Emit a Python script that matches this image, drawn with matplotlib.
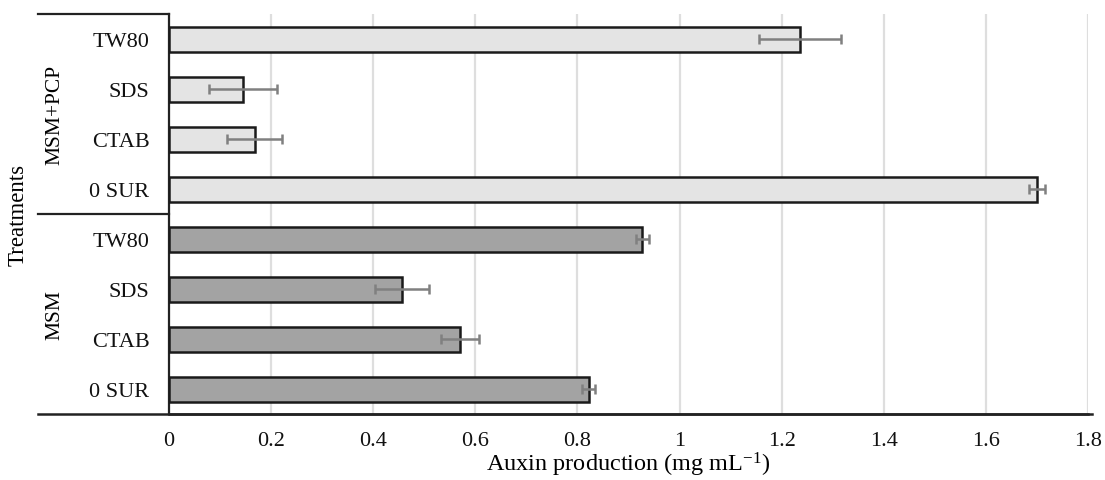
import matplotlib
matplotlib.use('Agg')
import matplotlib.pyplot as plt
import numpy as np

# surfactant treatments, listed bottom to top inside each group
surfactants = ['0 SUR', 'CTAB', 'SDS', 'TW80']
groups = ['MSM', 'MSM+PCP']

# auxin production (mg/mL) and error bars
msm_values = [0.822, 0.570, 0.457, 0.927]
msm_errors = [0.013, 0.037, 0.053, 0.013]
pcp_values = [1.700, 0.168, 0.145, 1.236]
pcp_errors = [0.015, 0.054, 0.066, 0.080]

plt.rcParams['font.family'] = ['Liberation Serif', 'DejaVu Serif']
plt.rcParams['mathtext.default'] = 'regular'

fig = plt.figure(figsize=(11.05, 4.81), dpi=100)
ax = fig.add_axes([169 / 1105, 1 - 415 / 481, 919 / 1105, 400 / 481])

n = len(surfactants)
y_msm = np.arange(n)
y_pcp = np.arange(n) + n

err_kw = dict(ecolor='#808080', elinewidth=1.8, capsize=3.6, capthick=1.8)
ax.barh(y_msm, msm_values, height=0.5, color='#a3a3a3', edgecolor='#1a1a1a',
        linewidth=1.8, xerr=msm_errors, error_kw=err_kw, zorder=3)
ax.barh(y_pcp, pcp_values, height=0.5, color='#e4e4e4', edgecolor='#1a1a1a',
        linewidth=1.8, xerr=pcp_errors, error_kw=err_kw, zorder=3)

ax.set_xlim(0, 1.8)
ax.set_ylim(-0.5, 2 * n - 0.5)
ax.set_xticks(np.arange(0, 1.81, 0.2))
ax.set_xticklabels(['0', '0.2', '0.4', '0.6', '0.8', '1', '1.2', '1.4', '1.6', '1.8'])
ax.set_yticks(np.concatenate([y_msm, y_pcp]))
ax.set_yticklabels(surfactants + surfactants)
ax.tick_params(axis='both', length=0, labelsize=16, colors='#111111')
ax.tick_params(axis='y', pad=14)
ax.tick_params(axis='x', pad=12)

ax.xaxis.grid(True, color='#dedede', linewidth=1.6, zorder=0)
ax.set_axisbelow(True)

for s in ['top', 'right']:
    ax.spines[s].set_visible(False)
ax.spines['left'].set_color('#222222')
ax.spines['left'].set_linewidth(1.6)
ax.spines['bottom'].set_color('#222222')
ax.spines['bottom'].set_linewidth(1.8)

# lines of the grouped category axis
left_x = -131 / 919
line_kw = dict(color='#222222', linewidth=1.6, clip_on=False,
               transform=ax.transAxes)
ax.plot([left_x, 0], [1, 1], **line_kw)
ax.plot([left_x, 0], [0.5, 0.5], **line_kw)
ax.plot([left_x, 1.004], [0, 0], color='#222222', linewidth=1.8,
        clip_on=False, transform=ax.transAxes)

ax.text(-114 / 919, 0.25, groups[0], rotation=90, ha='center', va='center',
        fontsize=15.5, transform=ax.transAxes)
ax.text(-114 / 919, 0.75, groups[1], rotation=90, ha='center', va='center',
        fontsize=15.5, transform=ax.transAxes)
ax.text(-151 / 919, 0.5, 'Treatments', rotation=90, ha='center', va='center',
        fontsize=16.5, transform=ax.transAxes)

# x label placed just above the bottom edge so it stays inside the picture
fig.text(628.5 / 1105, 2 / 481, 'Auxin production (mg mL$^{-1}$)',
         ha='center', va='bottom', fontsize=17.5)

fig.savefig('out.png', dpi=100)
